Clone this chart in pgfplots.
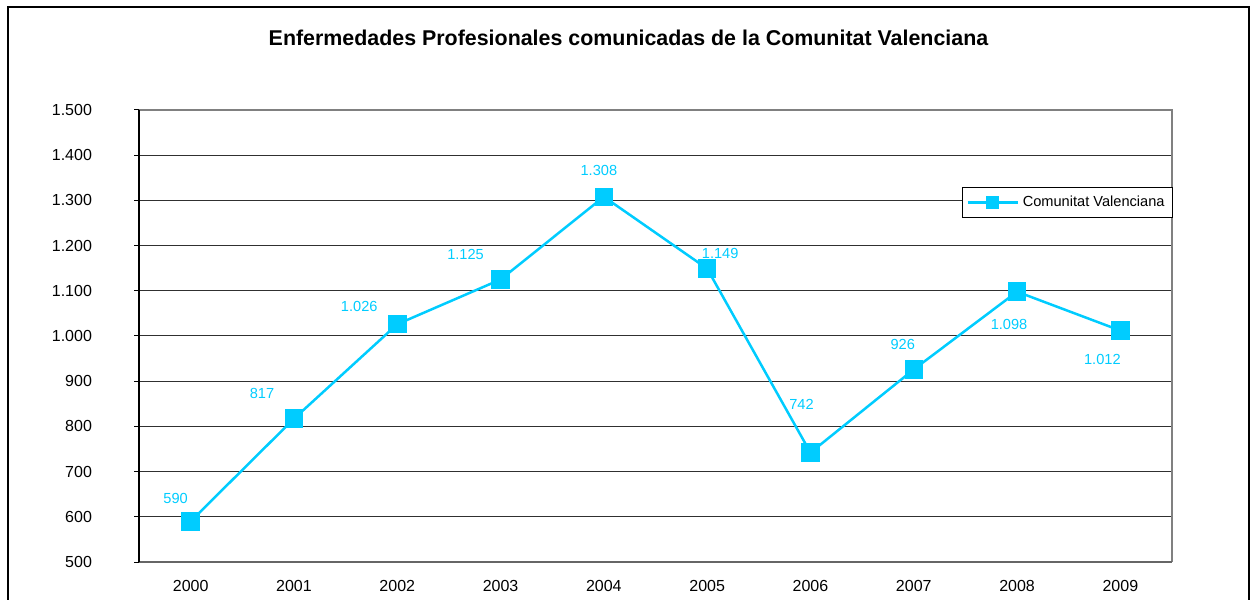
\documentclass[border=0pt]{standalone}
\usepackage{pgfplots}
\pgfplotsset{compat=1.18}
\usepackage{fontspec}
\setmainfont{Liberation Sans}
\definecolor{cv}{HTML}{00CCFF}
\definecolor{gridc}{HTML}{303030}
\begin{document}
\begin{tikzpicture}
\useasboundingbox (0,0) rectangle (628pt,299.5pt);
\draw[line width=0.8pt, black] (4pt,-10pt) rectangle (624.5pt,296pt);
\node[font=\fontsize{10.7}{13}\selectfont\bfseries] at (314.25pt,280.5pt) {Enfermedades Profesionales comunicadas de la Comunitat Valenciana};
\begin{axis}[
  at={(69.5pt,18.5pt)}, anchor=south west,
  scale only axis, width=516.5pt, height=226pt,
  xmin=-0.5, xmax=9.5, ymin=500, ymax=1500,
  xtick={0,...,9},
  xticklabels={2000,2001,2002,2003,2004,2005,2006,2007,2008,2009},
  ytick={500,600,...,1500},
  ytick pos=left, xtick pos=bottom,
  ymajorgrids, major grid style={gridc, line width=0.5pt},
  axis line style={draw=none},
  tick align=outside,
  major tick length=2.5pt,
  xtick style={draw=none},
  ytick style={black, line width=0.5pt},
  tick label style={font=\fontsize{8}{9.6}\selectfont},
  /pgf/number format/.cd, 1000 sep={.}, assume math mode=true,
  /pgfplots/.cd,
  yticklabel style={xshift=-17.5pt},
  xticklabel style={yshift=-3pt},
  clip=false,
  legend style={at={(1.001,0.8296)}, anchor=north east, draw=black, line width=0.5pt,
    font=\fontsize{7.3}{8.8}\selectfont, inner xsep=2pt, inner ysep=2pt,
    legend cell align=left, row sep=0pt},
  legend image code/.code={
    \draw[#1, mark size=2.75pt, mark repeat=2, mark phase=2] plot coordinates {(0pt,0pt) (12.5pt,0pt) (25pt,0pt)};
  },
]
\draw[gray, line width=0.6pt] (rel axis cs:0,1) -- (rel axis cs:1,1) -- (rel axis cs:1,0);
\draw[gray!80!black, line width=1pt] (rel axis cs:0,0) -- (rel axis cs:1,0);
\draw[black, line width=0.7pt] (rel axis cs:0,0) -- (rel axis cs:0,1);
\addplot[cv, line width=1.25pt, mark=square*, mark size=4pt, mark options={fill=cv, draw=cv}]
  coordinates {(0,590) (1,817) (2,1026) (3,1125) (4,1308) (5,1149) (6,742) (7,926) (8,1098) (9,1012)};
\addlegendentry{Comunitat Valenciana}
\begin{scope}[every node/.style={text=cv, font=\fontsize{7.3}{8.8}\selectfont}]
\node[xshift=-7.5pt, yshift=11.5pt] at (axis cs:0,590) {590};
\node[xshift=-16pt, yshift=12.5pt] at (axis cs:1,817) {817};
\node[xshift=-19pt, yshift=9pt] at (axis cs:2,1026) {1.026};
\node[xshift=-17.5pt, yshift=12.5pt] at (axis cs:3,1125) {1.125};
\node[xshift=-2.5pt, yshift=13pt] at (axis cs:4,1308) {1.308};
\node[xshift=6.5pt, yshift=7.5pt] at (axis cs:5,1149) {1.149};
\node[xshift=-4.5pt, yshift=24pt] at (axis cs:6,742) {742};
\node[xshift=-5.5pt, yshift=12.5pt] at (axis cs:7,926) {926};
\node[xshift=-4pt, yshift=-16.5pt] at (axis cs:8,1098) {1.098};
\node[xshift=-9pt, yshift=-14.5pt] at (axis cs:9,1012) {1.012};
\end{scope}
\end{axis}
\end{tikzpicture}
\end{document}
